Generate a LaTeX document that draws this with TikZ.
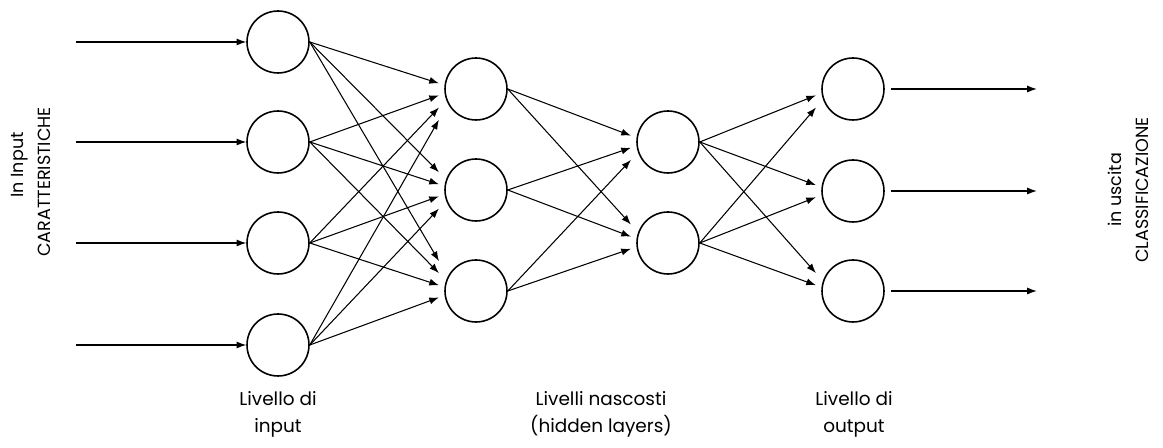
\documentclass[tikz,border=0pt]{standalone}
\usepackage{fontspec}
\setmainfont{Poppins}
\usetikzlibrary{arrows.meta,calc}

\tikzset{
  neuron/.style={circle, draw, line width=0.9pt, minimum size=1.24cm, inner sep=0pt},
  conn/.style={line width=0.6pt, -{Latex[length=5.5pt,width=4pt]}},
  lbl/.style={font=\fontsize{10.5}{15.4}\selectfont, align=center, inner sep=0pt},
  side/.style={font=\fontsize{10}{12}\selectfont, rotate=90, inner sep=0pt}
}

% a connector from the east side of one neuron towards the west side of the next
\newcommand{\link}[2]{%
  \draw[conn] let \p1=(#1.east), \p2=(#2.west) in
    (\p1) -- (\x2-3pt, {\y2+0.12*(\y1-\y2)});}

\begin{document}
\begin{tikzpicture}[x=0.02cm, y=-0.02cm]
\useasboundingbox (0,0) rectangle (1163,448);

% input layer
\node[neuron] (i1) at (278,42) {};
\node[neuron] (i2) at (278,142) {};
\node[neuron] (i3) at (278,243) {};
\node[neuron] (i4) at (278,345) {};

% first hidden layer
\node[neuron] (a1) at (476,89) {};
\node[neuron] (a2) at (476,190) {};
\node[neuron] (a3) at (476,291) {};

% second hidden layer
\node[neuron] (b1) at (668,142) {};
\node[neuron] (b2) at (668,243) {};

% output layer
\node[neuron] (o1) at (853,89) {};
\node[neuron] (o2) at (853,191) {};
\node[neuron] (o3) at (853,291) {};

% incoming features
\foreach \n in {1,...,4} {
  \coordinate (s\n) at ($(i\n.west)+(-170,0)$);
  \draw[conn] (s\n) -- (i\n.west);
}

% outgoing classes
\foreach \n in {1,2,3} {
  \coordinate (e\n) at ($(o\n.east)+(152,0)$);
  \draw[conn] ($(o\n.east)+(6,0)$) -- (e\n);
}

% fully connected weights
\foreach \s in {1,...,4} \foreach \t in {1,2,3} { \link{i\s}{a\t} }
\foreach \s in {1,2,3} \foreach \t in {1,2} { \link{a\s}{b\t} }
\foreach \s in {1,2} \foreach \t in {1,2,3} { \link{b\s}{o\t} }

% side captions
\node[side] (inA) at (20,165) {In Input};
\node[side] (inB) at (44,182) {CARATTERISTICHE};
\node[side] (outA) at (1115,190) {in uscita};
\node[side] (outB) at (1142,190) {CLASSIFICAZIONE};

% layer captions
\node[lbl] (l1) at (278,414) {Livello di\\input};
\node[lbl] (l2) at (601,414) {Livelli nascosti\\(hidden layers)};
\node[lbl] (l3) at (854,414) {Livello di\\output};
\end{tikzpicture}
\end{document}
